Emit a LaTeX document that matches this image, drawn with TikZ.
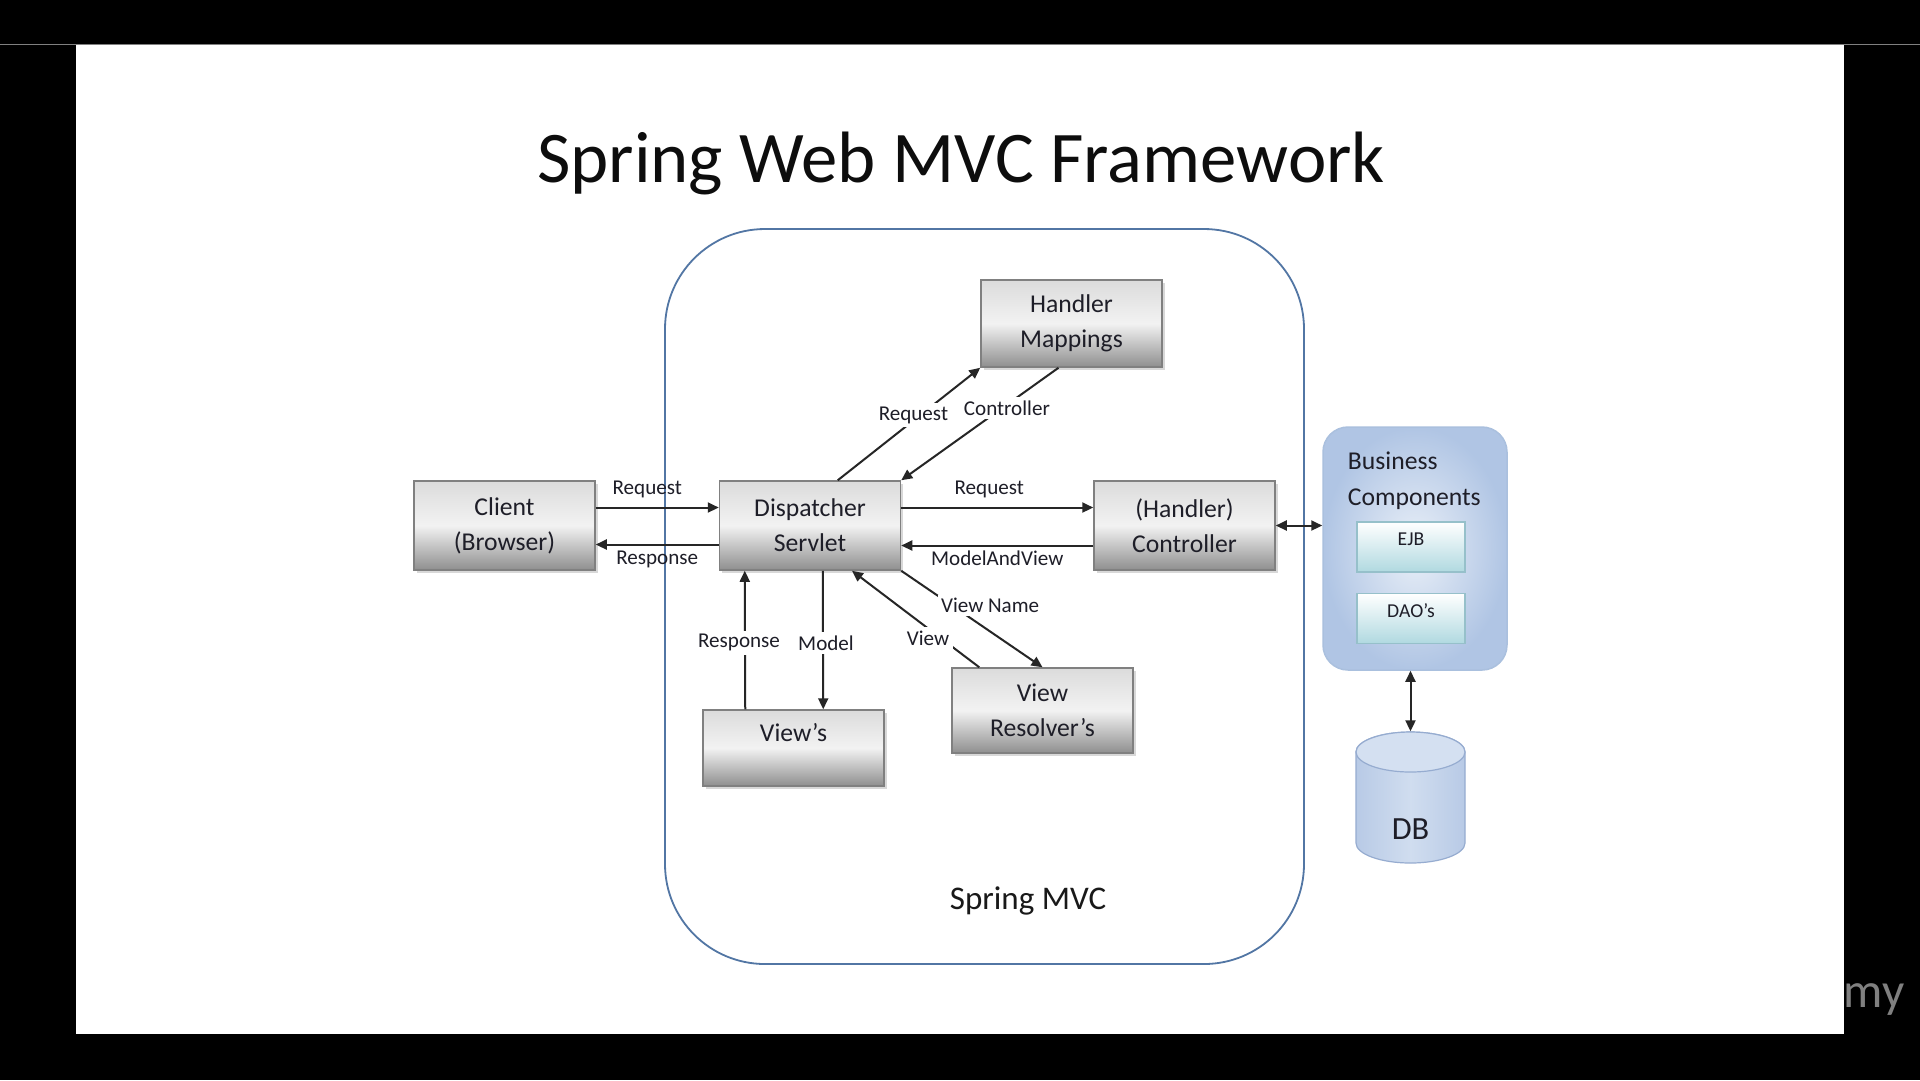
\documentclass[tikz,border=0pt]{standalone}
\usepackage{fontspec}
\setmainfont{Carlito}
\usetikzlibrary{arrows.meta,calc,shadows}

\definecolor{frameblue}{RGB}{82,118,164}
\definecolor{boxline}{RGB}{128,128,128}
\definecolor{bcouter}{RGB}{176,197,228}
\definecolor{bcinner}{RGB}{234,240,248}
\definecolor{bcline}{RGB}{170,192,222}
\definecolor{compbot}{RGB}{176,217,224}
\definecolor{compline}{RGB}{150,192,202}
\definecolor{dbside}{RGB}{184,202,230}
\definecolor{dbmid}{RGB}{208,221,239}
\definecolor{dbtop}{RGB}{212,224,241}
\definecolor{dbline}{RGB}{150,172,208}
\definecolor{txtdark}{RGB}{30,30,40}

\tikzset{
  graybox/.style={draw=boxline, line width=0.15mm, minimum width=18.1mm, minimum height=8.9mm,
    top color=black!14, bottom color=black!44, middle color=black!5,
    align=center, font=\fontsize{7.3}{10}\selectfont, text=txtdark, inner sep=0pt,
    drop shadow={shadow xshift=0.25mm, shadow yshift=-0.25mm, opacity=0.3}},
  bcbox/.style={draw=bcline, line width=0.15mm, rounded corners=2.5mm,
    minimum width=18.4mm, minimum height=24.3mm, inner color=bcinner, outer color=bcouter},
  comp/.style={draw=compline, line width=0.12mm, minimum width=10.8mm, minimum height=5mm,
    top color=white, bottom color=compbot, font=\fontsize{5.6}{7}\selectfont, text=txtdark,
    text depth=1.5mm, inner sep=0pt},
  arr/.style={draw=black!85, line width=0.2mm, -{Triangle[length=1.1mm,width=1mm]}},
  dblarr/.style={draw=black!85, line width=0.2mm,
    {Triangle[length=1.1mm,width=1mm]}-{Triangle[length=1.1mm,width=1mm]}},
  lab/.style={font=\fontsize{6}{7}\selectfont, text=txtdark, inner sep=1pt},
  onlab/.style={lab, fill=white}
}

\begin{document}
\begin{tikzpicture}[x=0.1mm, y=-0.1mm]
  %%%%% SCREEN %%%%%
  \fill[black] (0,0) rectangle (1920,1080);
  \useasboundingbox (0,0) rectangle (1920,1080);
  \draw[black!50, line width=0.1mm] (0,44) -- (1920,44);
  \fill[white] (76,45) rectangle (1844,1034);
  \node[text=black!50, font=\fontsize{14}{14}\selectfont, anchor=base] (mark) at (1874,1007) {my};

  \node[font=\fontsize{20.7}{24}\selectfont, text=black!95, anchor=base] (title) at (961,182) {Spring Web MVC Framework};

  %%%%% SPRING MVC %%%%%
  \draw[frameblue, line width=0.18mm, rounded corners=10mm] (665,229) rectangle (1304,964);
  \node[font=\fontsize{9.4}{11}\selectfont, text=black!90] (mvc) at (1028,901) {Spring MVC};

  \node[graybox] (client) at (504.5,525.5) {Client\\(Browser)};
  \node[graybox] (ds) at (810,525.5) {Dispatcher\\Servlet};
  \node[graybox] (ctrl) at (1184.5,525.5) {(Handler)\\Controller};
  \node[graybox, minimum height=8.7mm] (hm) at (1071.5,323.5) {Handler\\Mappings};
  \node[graybox, minimum height=7.6mm, text depth=3.2mm] (views) at (793.5,748) {View’s};
  \node[graybox, minimum height=8.5mm] (vr) at (1042.5,710.5) {View\\Resolver’s};

  %%%%% BUSINESS %%%%%
  \node[bcbox] (bc) at (1415,548.5) {};
  \node[anchor=north west, align=left, font=\fontsize{7.3}{10.2}\selectfont, text=txtdark,
    inner sep=0pt] (bcname) at ($(bc.north west)+(25,25)$) {Business\\Components};
  \node[comp] (ejb) at (1411,547) {EJB};
  \node[comp] (dao) at (1411,618.5) {DAO’s};

  \shade[left color=dbside, right color=dbside, middle color=dbmid, draw=dbline, line width=0.12mm]
    (1356,752) -- (1356,843) arc[start angle=180, end angle=0, x radius=54.5, y radius=20]
    -- (1465,752) arc[start angle=0, end angle=-180, x radius=54.5, y radius=20] -- cycle;
  \draw[dbline, line width=0.12mm, fill=dbtop] (1410.5,752) ellipse[x radius=54.5, y radius=20];
  \node[minimum width=10.9mm, minimum height=13.1mm, inner sep=0pt, text height=8.4mm,
    font=\fontsize{9.2}{11}\selectfont, text=txtdark] (db) at (1410.5,797.5) {DB};

  %%%%% CONNECTORS %%%%%
  \draw[arr] ($(client.east)+(0,-18)$) -- node[lab, above=0.5mm, xshift=-1mm] {Request} ($(ds.west)+(0,-18)$);
  \draw[arr] ($(ds.west)+(0,19)$) -- node[lab, below=0.2mm] {Response} ($(client.east)+(0,19)$);
  \draw[arr] ($(ds.east)+(0,-18)$) -- node[lab, above=0.5mm, xshift=-0.8mm] {Request} ($(ctrl.west)+(0,-18)$);
  \draw[arr] ($(ctrl.west)+(0,20)$) -- node[lab, below=0.1mm] {ModelAndView} ($(ds.east)+(0,20)$);

  \draw[arr] ($(ds.north west)+(119,0)$) -- node[onlab, pos=0.58, xshift=-0.7mm] {Request} (hm.south west);
  \draw[arr] ($(hm.south)+(-13,0)$) -- node[onlab, pos=0.36, xshift=0.5mm] {Controller} (ds.north east);

  \draw[arr] ($(views.north west)+(43,0)$) -- node[onlab, pos=0.48, xshift=-0.6mm] {Response} ($(ds.south west)+(26,0)$);
  \draw[arr] ($(ds.south west)+(104,0)$) -- node[onlab, pos=0.52, xshift=0.3mm] {Model} ($(views.north west)+(121,0)$);

  \draw[arr] ($(vr.north west)+(28,0)$) -- node[onlab, pos=0.3, xshift=-1.3mm] {View} ($(ds.south)+(42,0)$);
  \draw[arr] (ds.south east) -- node[onlab, pos=0.36, xshift=3.8mm] {View Name} (vr.north);

  \draw[dblarr] (ctrl.east) -- (ctrl.east -| bc.west);
  \draw[dblarr] (db.north |- bc.south) -- (db.north);
\end{tikzpicture}
\end{document}
